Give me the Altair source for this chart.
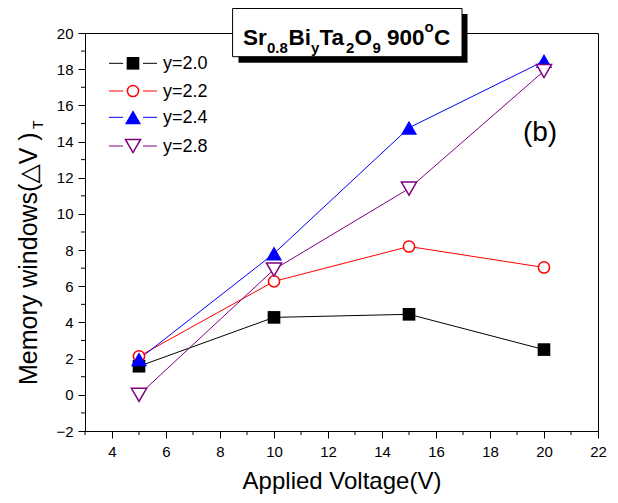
import altair as alt
import pandas as pd

# ---- data ----
volts = [5, 10, 15, 20]
y20 = [1.58, 4.28, 4.45, 2.50]
y22 = [2.13, 6.27, 8.20, 7.04]
y24 = [1.97, 7.81, 14.76, 18.45]
y28 = [0.00, 6.93, 11.40, 17.90]
series_values = [y20, y22, y24, y28]
series_labels = ["y=2.0", "y=2.2", "y=2.4", "y=2.8"]

x_ticks = [4, 6, 8, 10, 12, 14, 16, 18, 20, 22]
x_minor = [3, 5, 7, 9, 11, 13, 15, 17, 19, 21]
y_ticks = [-2, 0, 2, 4, 6, 8, 10, 12, 14, 16, 18, 20]
y_minor = [-1, 1, 3, 5, 7, 9, 11, 13, 15, 17, 19]

# ---- styles ----
colors = ["#000000", "#FF0000", "#0000FF", "#800080"]
shapes = ["square", "circle", "triangle-up", "triangle-down"]
filled = [True, False, True, False]
sizes = [160, 125, 260, 230]

W, H = 513, 398
FONT = "Liberation Sans, Arial, DejaVu Sans"

xscale = alt.Scale(domain=[3, 22], nice=False, zero=False)
yscale = alt.Scale(domain=[-2, 20], nice=False, zero=False)

xaxis = alt.Axis(values=x_ticks, title="Applied Voltage(V)", titleFont=FONT,
                 titleFontSize=24, titleFontWeight="normal", titleColor="black",
                 titlePadding=10, labelFont=FONT, labelFontSize=15, labelColor="black",
                 labelPadding=6, tickSize=7, tickColor="black", domainColor="black",
                 grid=False, labelFlush=False)
yaxis = alt.Axis(values=y_ticks, title=None, labelFont=FONT, labelFontSize=15,
                 labelColor="black", labelPadding=5, tickSize=7, tickColor="black",
                 domainColor="black", grid=False, labelFlush=False)

X = lambda f: alt.X(f, type="quantitative", scale=xscale, axis=xaxis)
Y = lambda f: alt.Y(f, type="quantitative", scale=yscale, axis=yaxis)

layers = []

# minor ticks
layers.append(alt.Chart(pd.DataFrame({"V": x_minor})).mark_rule(color="black", strokeWidth=1)
              .encode(x=X("V"), y=alt.value(H), y2=alt.value(H + 4)))
layers.append(alt.Chart(pd.DataFrame({"M": y_minor})).mark_rule(color="black", strokeWidth=1)
              .encode(y=Y("M"), x=alt.value(-4), x2=alt.value(0)))

# lines
for vals, c in zip(series_values, colors):
    df = pd.DataFrame({"V": volts, "M": vals})
    layers.append(alt.Chart(df).mark_line(color=c, strokeWidth=1)
                  .encode(x=X("V"), y=Y("M")))

# markers
def point_mark(i):
    kw = dict(shape=shapes[i], size=sizes[i], opacity=1, filled=filled[i])
    if filled[i]:
        kw.update(color=colors[i])
    else:
        kw.update(stroke=colors[i], fill="white", fillOpacity=1, strokeWidth=1.5)
    return kw

for i, vals in enumerate(series_values):
    df = pd.DataFrame({"V": volts, "M": vals})
    layers.append(alt.Chart(df).mark_point(**point_mark(i))
                  .encode(x=X("V"), y=Y("M")))

# legend (manual, Origin style)
leg_y = [30.3, 58, 84.3, 113]
for i, lab in enumerate(series_labels):
    one = pd.DataFrame({"t": [lab]})
    for a, b in [(24, 38), (58, 72)]:
        layers.append(alt.Chart(one).mark_rule(color=colors[i], strokeWidth=1)
                      .encode(x=alt.value(a), x2=alt.value(b), y=alt.value(leg_y[i])))
    layers.append(alt.Chart(one).mark_point(**point_mark(i))
                  .encode(x=alt.value(48), y=alt.value(leg_y[i])))
    layers.append(alt.Chart(one).mark_text(font=FONT, fontSize=18, align="left",
                                           baseline="middle", color="black")
                  .encode(x=alt.value(78), y=alt.value(leg_y[i] + 1), text="t:N"))

# "(b)"
layers.append(alt.Chart(pd.DataFrame({"t": ["(b)"]}))
              .mark_text(font=FONT, fontSize=28, align="center", baseline="alphabetic", color="black")
              .encode(x=alt.value(455), y=alt.value(108), text="t:N"))

# y-axis title (rotated, with subscript T)
layers.append(alt.Chart(pd.DataFrame({"t": ["Memory windows(\u25b3V    )"]}))
              .mark_text(font=FONT, fontSize=25, align="left", baseline="alphabetic",
                         angle=270, color="black")
              .encode(x=alt.value(-48), y=alt.value(352), text="t:N"))
layers.append(alt.Chart(pd.DataFrame({"t": ["T"]}))
              .mark_text(font=FONT, fontSize=14, align="left", baseline="alphabetic",
                         angle=270, color="black")
              .encode(x=alt.value(-42), y=alt.value(96), text="t:N"))

# title box with shadow
box = pd.DataFrame({"t": [""]})
layers.append(alt.Chart(box).mark_rect(fill="black")
              .encode(x=alt.value(153.5), x2=alt.value(382.5), y=alt.value(-19), y2=alt.value(29.7)))
layers.append(alt.Chart(box).mark_rect(fill="white", stroke="black", strokeWidth=1)
              .encode(x=alt.value(147.6), x2=alt.value(377), y=alt.value(-24.5), y2=alt.value(23.7)))

# title pieces: (text, x, baseline y, size), laid out left to right
title_parts = [
    ("Sr", 158, 12, 22.5), ("0.8", 182, 20, 15), ("Bi", 203.5, 12, 22.5), ("y", 226, 20, 15),
    ("Ta", 234.5, 12, 22.5), ("2", 261, 20, 15), ("O", 269.5, 12, 22.5), ("9", 287.5, 20, 15),
    ("900", 302, 12, 22.5), ("o", 339.5, -1, 15), ("C", 349, 12, 22.5),
]
for txt, px, py, fs in title_parts:
    layers.append(alt.Chart(pd.DataFrame({"t": [txt]}))
                  .mark_text(font=FONT, fontSize=fs, fontWeight="bold", align="left",
                             baseline="alphabetic", color="black")
                  .encode(x=alt.value(px), y=alt.value(py), text="t:N"))

chart = alt.layer(*layers).properties(
    width=W, height=H,
    autosize=alt.AutoSizeParams(type="none"),
    padding={"left": 77, "top": 25, "right": 10, "bottom": 63},
    background="white",
).configure_view(stroke="black", strokeWidth=1)

chart.save("out.html", embed_options={"renderer": "svg", "actions": False})
